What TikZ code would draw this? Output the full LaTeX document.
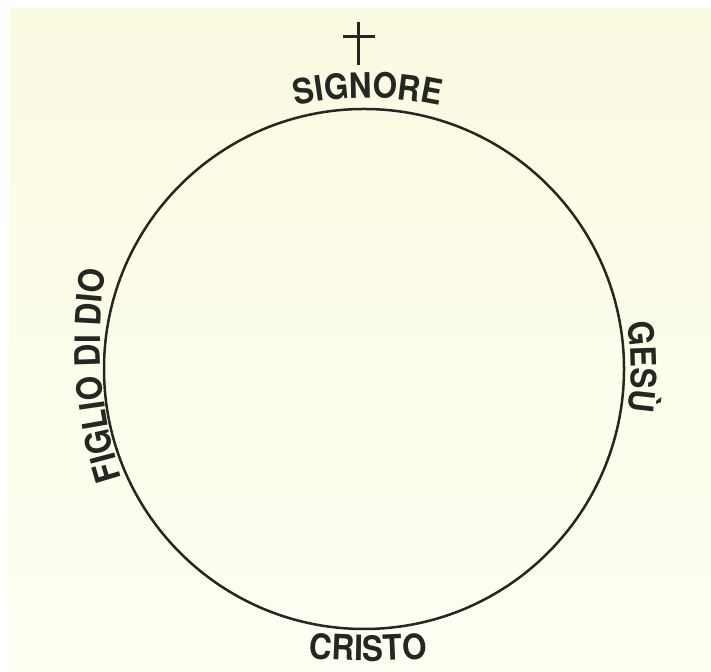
\documentclass[tikz,border=0pt]{standalone}
\usepackage{fontspec}
\setmainfont{TeX Gyre Heros}[FakeStretch=0.9]
\usetikzlibrary{decorations.text,positioning}
\definecolor{papertop}{RGB}{251,251,226}
\definecolor{paperbot}{RGB}{254,254,243}
\definecolor{ink}{RGB}{38,38,34}

\tikzset{
  ring/.style={draw=ink, line width=2.5pt},
  crossbar/.style={draw=ink, line width=3pt},
  arclabel/.style={decorate, decoration={text along path, text align=center,
      text color=ink, text={|\fontsize{35}{40}\bfseries\selectfont|#1}}},
}

\begin{document}
\begin{tikzpicture}[x=1pt,y=1pt]
\useasboundingbox (0,0) rectangle (711,671);
% paper
\shade[top color=papertop, bottom color=paperbot] (9,0) rectangle (711,662);

\def\R{260}   % circle radius
\coordinate (centre) at (364,302);
\draw[ring] (centre) circle[radius=\R];

% cross above the circle
\coordinate (crosstop) at (358,649);
\coordinate (crossfoot) at (358,606);
\coordinate (barleft) at (343,634);
\coordinate (barright) at (375,634);
\draw[crossbar] (crosstop) -- (crossfoot);
\draw[crossbar] (barleft) -- (barright);

% labels round the circle
\path[arclabel=SIGNORE] (368,243) ++(120:330) arc[start angle=120, end angle=60, radius=330];
\path[arclabel=CRISTO] (368,610) ++(240:600) arc[start angle=240, end angle=300, radius=600];
\path[arclabel=GESÙ] (331,304) ++(25:300) arc[start angle=25, end angle=-25, radius=300];
\path[arclabel={FIGLIO DI DIO}] (550,331) ++(204.5:450) arc[start angle=204.5, end angle=164.5, radius=450];
\end{tikzpicture}
\end{document}
